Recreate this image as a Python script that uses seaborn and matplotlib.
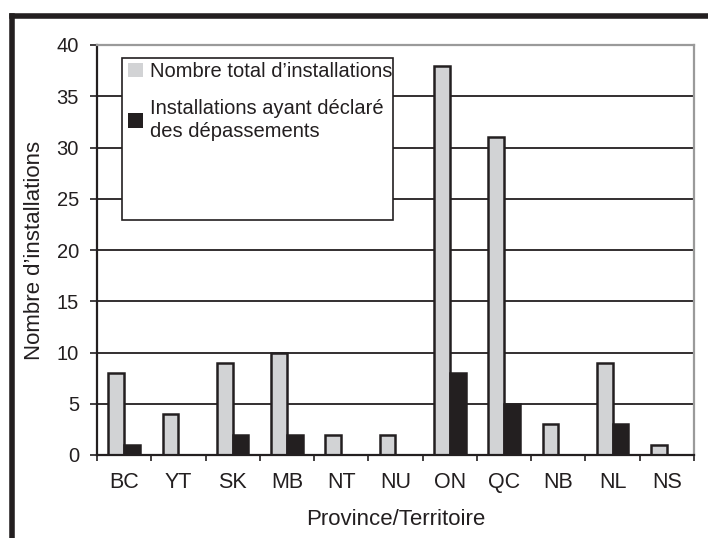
import matplotlib
matplotlib.use("Agg")
import matplotlib.pyplot as plt
import seaborn as sns
import pandas as pd
import numpy as np
from matplotlib.patches import Rectangle, Patch
from matplotlib.lines import Line2D

provinces = ["BC", "YT", "SK", "MB", "NT", "NU", "ON", "QC", "NB", "NL", "NS"]
total = [8, 4, 9, 10, 2, 2, 38, 31, 3, 9, 1]
exceed = [1, 0, 2, 2, 0, 0, 8, 5, 0, 3, 0]
series_names = ["Nombre total d\u2019installations",
                "Installations ayant déclaré\ndes dépassements"]
yticks = [0, 5, 10, 15, 20, 25, 30, 35, 40]

df = pd.DataFrame({
    "prov": provinces * 2,
    "val": total + exceed,
    "serie": [series_names[0]] * len(provinces) + [series_names[1]] * len(provinces),
})

sns.set_style("white")
plt.rcParams["font.family"] = ["Liberation Sans", "DejaVu Sans"]

W, H = 708, 538
fig = plt.figure(figsize=(W / 100, H / 100), dpi=100)
ax = fig.add_axes([97 / W, 1 - 455 / H, (694 - 97) / W, (455 - 45) / H])

ink = "#231f20"
gray = "#d2d3d5"
sns.barplot(data=df, x="prov", y="val", hue="serie", order=provinces,
            hue_order=series_names, palette=[gray, ink], ax=ax,
            width=0.58, dodge=True, legend=False, edgecolor=ink,
            linewidth=1.8, saturation=1, zorder=2)
for p in ax.patches:
    if p.get_height() == 0:
        p.set_visible(False)

ax.set_ylim(0, 40)
ax.set_xlim(-0.5, len(provinces) - 0.5)
ax.set_yticks(yticks)
for y in yticks[1:-1]:
    ax.axhline(y, color=ink, lw=1.3, zorder=0.5)

for s in ["top", "right"]:
    ax.spines[s].set_color("#9a9a9a")
    ax.spines[s].set_linewidth(1.6)
for s in ["left", "bottom"]:
    ax.spines[s].set_color(ink)
    ax.spines[s].set_linewidth(1.6)

ax.tick_params(axis="y", left=True, length=5, width=1.2, color=ink,
               labelsize=14.5, labelcolor=ink, pad=8)

ax.set_xticks(range(len(provinces)))
ax.set_xticklabels(provinces, fontsize=15.5, color=ink)
ax.tick_params(axis="x", bottom=False, length=0, pad=12)
ax.set_xticks(np.arange(-0.5, len(provinces), 1.0), minor=True)
ax.tick_params(axis="x", which="minor", bottom=True, length=4.5, width=1.2,
               color=ink)

ax.set_xlabel("Province/Territoire", fontsize=16, color=ink, labelpad=12)
ax.set_ylabel("Nombre d\u2019installations", fontsize=16, color=ink, labelpad=8)

# legend box
box = Rectangle((122 / W, 1 - 220 / H), (393 - 122) / W, (220 - 58) / H,
                transform=fig.transFigure, facecolor="white", edgecolor=ink,
                lw=1.2, zorder=3)
ax.add_patch(box)
handles = [Patch(facecolor=gray, edgecolor="none"), Patch(facecolor=ink, edgecolor="none")]
leg = ax.legend(handles, series_names, loc="upper left",
                bbox_to_anchor=(128 / W, 1 - 62 / H), bbox_transform=fig.transFigure,
                frameon=False, fontsize=14.5, handlelength=0.75, handleheight=0.75,
                handletextpad=0.35, labelspacing=0.9, borderaxespad=0, borderpad=0)
for t in leg.get_texts():
    t.set_color(ink)
    t.set_linespacing(1.25)
leg.set_zorder(4)

# outer thick frame (top and left)
fig.add_artist(Line2D([11.5 / W, 11.5 / W], [0, 1 - 15.5 / H],
                      transform=fig.transFigure, color=ink, lw=4, solid_capstyle="projecting"))
fig.add_artist(Line2D([11.5 / W, 1], [1 - 15.5 / H, 1 - 15.5 / H],
                      transform=fig.transFigure, color=ink, lw=4, solid_capstyle="projecting"))

fig.savefig("out.png", dpi=100)
